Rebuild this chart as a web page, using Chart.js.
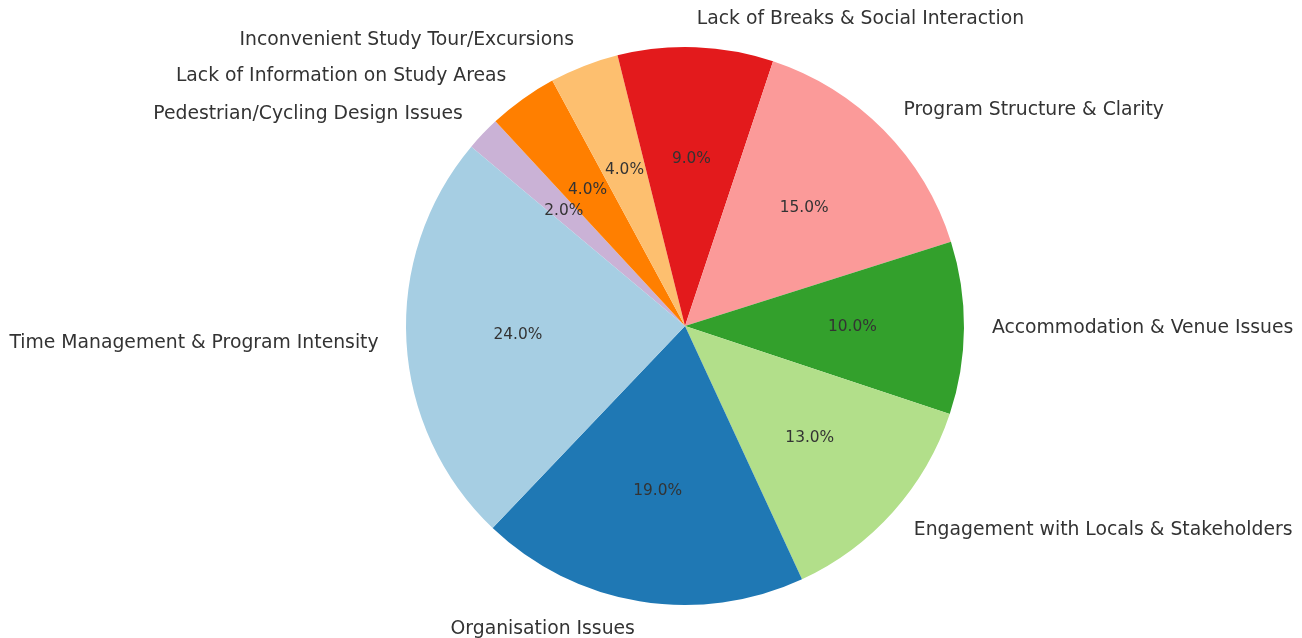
<!DOCTYPE html>
<html>
<head>
<meta charset="utf-8">
<script src="https://cdn.jsdelivr.net/npm/chart.js@4.4.0/dist/chart.umd.min.js"></script>
<style>
  html, body { margin: 0; padding: 0; background: #fff; }
  #wrap { width: 1302px; height: 638px; position: relative; }
</style>
</head>
<body>
<div id="wrap"><canvas id="grafica"></canvas></div>
<script>
// Datos del grafico (orden original, antihorario desde 140 grados)
const categorias = [
    'Time Management & Program Intensity',
    'Organisation Issues',
    'Engagement with Locals & Stakeholders',
    'Accommodation & Venue Issues',
    'Program Structure & Clarity',
    'Lack of Breaks & Social Interaction',
    'Inconvenient Study Tour/Excursions',
    'Lack of Information on Study Areas',
    'Pedestrian/Cycling Design Issues'
];
const porcentajes = [24, 19, 13, 10, 15, 9, 4, 4, 2];
const colores = ['#a6cee3', '#1f78b4', '#b2df8a', '#33a02c', '#fb9a99', '#e31a1c', '#fdbf6f', '#ff7f00', '#cab2d6'];

// Chart.js dibuja en sentido horario: invertimos el orden
const etiquetas = categorias.slice().reverse();
const valores = porcentajes.slice().reverse();
const fondo = colores.slice().reverse();

const textoColor = '#333333';

// Plugin para etiquetas exteriores y porcentajes interiores
const etiquetasPlugin = {
    id: 'etiquetasPie',
    afterDatasetsDraw(chart) {
        const ctx = chart.ctx;
        const meta = chart.getDatasetMeta(0);
        const total = valores.reduce((a, b) => a + b, 0);
        ctx.save();
        meta.data.forEach((arc, i) => {
            const mid = (arc.startAngle + arc.endAngle) / 2;
            const r = arc.outerRadius;
            const cx = arc.x, cy = arc.y;
            // etiqueta exterior
            const lx = cx + Math.cos(mid) * r * 1.1;
            const ly = cy + Math.sin(mid) * r * 1.1;
            ctx.font = '18.8px "DejaVu Sans"';
            ctx.fillStyle = textoColor;
            ctx.textBaseline = 'middle';
            ctx.textAlign = Math.cos(mid) >= 0 ? 'left' : 'right';
            ctx.fillText(etiquetas[i], lx, ly);
            // porcentaje interior
            const px = cx + Math.cos(mid) * r * 0.6;
            const py = cy + Math.sin(mid) * r * 0.6;
            ctx.font = '15.4px "DejaVu Sans"';
            ctx.textAlign = 'center';
            ctx.fillText((valores[i] / total * 100).toFixed(1) + '%', px, py);
        });
        ctx.restore();
    }
};

new Chart(document.getElementById('grafica'), {
    type: 'pie',
    data: {
        labels: etiquetas,
        datasets: [{
            data: valores,
            backgroundColor: fondo,
            borderWidth: 0
        }]
    },
    options: {
        responsive: true,
        maintainAspectRatio: false,
        animation: false,
        rotation: -50,
        layout: { padding: { left: 406, right: 338, top: 47, bottom: 33 } },
        plugins: {
            legend: { display: false },
            tooltip: { enabled: false }
        }
    },
    plugins: [etiquetasPlugin]
});
</script>
</body>
</html>
